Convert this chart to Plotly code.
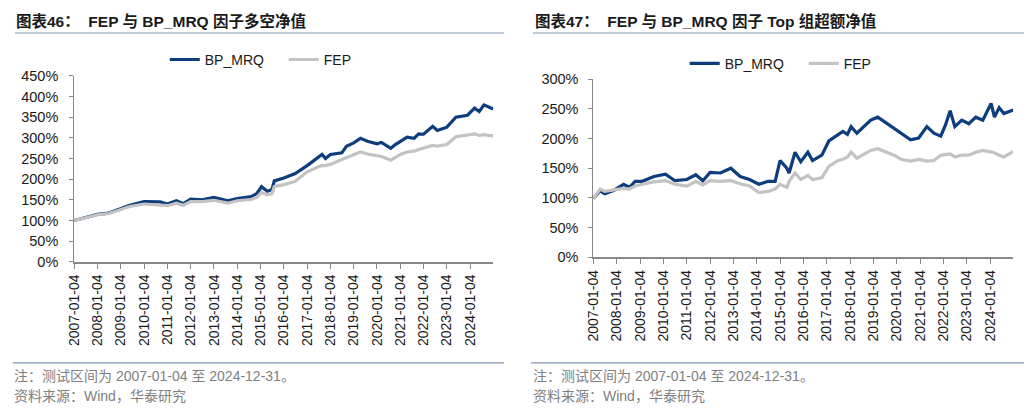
import plotly.graph_objects as go

# ---------------- data ----------------
left_dates = ["2007-01-04", "2007-07-02", "2008-01-04", "2008-07-02", "2009-01-04", "2009-05-26",
              "2010-01-04", "2010-09-13", "2011-01-04", "2011-05-26", "2011-09-13", "2012-01-04",
              "2012-07-02", "2013-01-04", "2013-08-08", "2014-01-04", "2014-08-08", "2014-11-06",
              "2015-01-20", "2015-04-20", "2015-07-02", "2015-08-08", "2016-01-04", "2016-07-02",
              "2017-01-04", "2017-07-02", "2017-08-26", "2017-10-19", "2018-01-04", "2018-07-02",
              "2018-09-13", "2019-01-04", "2019-04-20", "2019-08-08", "2020-01-04", "2020-03-14",
              "2020-08-08", "2020-10-19", "2021-01-04", "2021-04-20", "2021-08-08", "2021-10-19",
              "2022-01-04", "2022-05-26", "2022-08-08", "2023-01-04", "2023-05-26", "2023-11-24",
              "2024-03-14", "2024-05-26", "2024-08-08", "2024-10-19", "2024-12-31"]
left_bp = [100, 108, 115, 118, 128, 137, 146, 145, 140, 148, 141, 152, 150, 156, 148, 153, 158, 165,
           182, 171, 175, 196, 203, 214, 233, 252, 260, 250, 260, 264, 280, 288, 299, 292, 286, 289,
           275, 284, 291, 302, 299, 310, 309, 328, 318, 326, 350, 355, 372, 364, 380, 375, 370]
left_fep = [100, 107, 114, 117, 127, 134, 140, 138, 136, 142, 137, 146, 146, 149, 142, 148, 151, 156,
            168, 162, 165, 182, 187, 195, 218, 230, 233, 233, 236, 248, 252, 260, 266, 261, 257, 255,
            246, 252, 260, 266, 268, 272, 276, 282, 280, 284, 303, 307, 310, 306, 308, 306, 305]

right_dates = ["2007-01-04", "2007-04-20", "2007-07-02", "2007-11-24", "2008-04-20", "2008-07-20",
               "2008-10-19", "2009-02-06", "2009-08-08", "2010-02-06", "2010-07-02", "2011-01-04",
               "2011-05-26", "2011-09-13", "2012-01-04", "2012-06-14", "2012-11-24", "2013-04-20",
               "2013-09-13", "2014-02-06", "2014-07-02", "2014-10-19", "2015-01-04", "2015-04-20",
               "2015-05-26", "2015-08-26", "2015-11-24", "2016-03-14", "2016-05-26", "2016-10-19",
               "2017-02-06", "2017-07-02", "2017-09-13", "2017-11-24", "2018-01-20", "2018-04-20",
               "2018-08-08", "2018-11-24", "2019-03-14", "2019-08-08", "2019-11-24", "2020-03-14",
               "2020-08-08", "2020-12-13", "2021-04-20", "2021-08-08", "2021-11-24", "2022-02-06",
               "2022-04-20", "2022-07-02", "2022-10-19", "2023-02-06", "2023-05-26", "2023-09-13",
               "2024-01-20", "2024-03-14", "2024-05-26", "2024-08-08", "2024-12-31"]
right_bp = [99, 112, 107, 113, 123, 118, 128, 128, 136, 140, 129, 131, 139, 129, 143, 142, 150, 136,
            131, 123, 128, 128, 163, 150, 142, 177, 161, 177, 163, 172, 196, 207, 212, 207, 220, 209,
            220, 231, 236, 225, 217, 209, 198, 201, 220, 209, 204, 223, 247, 220, 231, 225, 236, 231,
            259, 236, 252, 242, 248]
right_fep = [99, 115, 111, 113, 116, 115, 120, 123, 127, 129, 123, 120, 128, 122, 129, 128, 129, 124,
             120, 109, 111, 115, 123, 118, 128, 142, 131, 138, 131, 134, 153, 163, 165, 169, 177, 167,
             174, 180, 183, 177, 172, 165, 162, 165, 162, 163, 172, 173, 174, 169, 172, 172, 177, 180,
             178, 176, 172, 169, 178]

tick_dates = ["%d-01-04" % y for y in range(2007, 2025)]
tick_labels = tick_dates
series_names = ["BP_MRQ", "FEP"]
colors = ["#0d3d7c", "#c3c3c3"]
titles = ["图表46：  FEP 与 BP_MRQ 因子多空净值", "图表47：  FEP 与 BP_MRQ 因子 Top 组超额净值"]
note = "注：测试区间为 2007-01-04 至 2024-12-31。"
source = "资料来源：Wind，华泰研究"

W, H = 1032, 416
FONT = "Liberation Sans, Arial, Noto Sans CJK SC, sans-serif"

fig = go.Figure()
for name, col, ys in zip(series_names, colors, [left_bp, left_fep]):
    fig.add_trace(go.Scatter(x=left_dates, y=ys, name=name, mode="lines",
                             line=dict(color=col, width=3.2), xaxis="x", yaxis="y", legend="legend"))
for name, col, ys in zip(series_names, colors, [right_bp, right_fep]):
    fig.add_trace(go.Scatter(x=right_dates, y=ys, name=name, mode="lines",
                             line=dict(color=col, width=3.2), xaxis="x2", yaxis="y2", legend="legend2"))

axis_common = dict(showline=True, linecolor="#888888", linewidth=1, ticks="outside", ticklen=4,
                   tickcolor="#888888", showgrid=False, zeroline=False,
                   tickfont=dict(family=FONT, size=14, color="#1a1a1a"))
yfont = dict(family=FONT, size=14.5, color="#1a1a1a")
xcommon = dict(axis_common, type="date", tickvals=tick_dates, ticktext=tick_labels, tickangle=-90,
               range=["2007-01-04", "2024-12-31"], linewidth=2, ticklen=5)
legend_common = dict(orientation="h", xanchor="left", yanchor="middle", entrywidth=74,
                     font=dict(family=FONT, size=14, color="#1a1a1a"), bgcolor="rgba(0,0,0,0)")

fig.update_layout(
    width=W, height=H, autosize=False, margin=dict(l=0, r=0, t=0, b=0),
    paper_bgcolor="white", plot_bgcolor="white",
    xaxis=dict(xcommon, domain=[66.7 / W, 489 / W], anchor="y"),
    yaxis=dict(axis_common, domain=[1 - 264 / H, 1 - 70.7 / H], range=[0, 450], dtick=50,
               ticksuffix="%", anchor="x", ticklabelstandoff=8, tickfont=yfont),
    xaxis2=dict(xcommon, domain=[590 / W, 1013 / W], anchor="y2"),
    yaxis2=dict(axis_common, domain=[1 - 259.3 / H, 1 - 74 / H], range=[0, 300], dtick=50,
                ticksuffix="%", anchor="x2", ticklabelstandoff=7, tickfont=yfont),
    legend=dict(legend_common, x=158 / W, y=1 - 54 / H),
    legend2=dict(legend_common, x=682 / W, y=1 - 58 / H),
)

shapes = []
annotations = []
for x0, x1 in [(7, 500), (529, 1024)]:
    shapes.append(dict(type="line", xref="paper", yref="paper", x0=x0 / W, x1=x1 / W,
                       y0=1 - 26 / H, y1=1 - 26 / H, line=dict(color="#8496b0", width=1.2)))
    shapes.append(dict(type="line", xref="paper", yref="paper", x0=(x0 - 2) / W, x1=x1 / W,
                       y0=1 - 369 / H, y1=1 - 369 / H, line=dict(color="#8496b0", width=1.2)))
for i, tx in enumerate([6, 529]):
    annotations.append(dict(text="<b>%s</b>" % titles[i], xref="paper", yref="paper", x=tx / W,
                            y=1 - 13 / H, xanchor="left", yanchor="middle", showarrow=False,
                            font=dict(family=FONT, size=15.5, color="#1a1a1a")))
    annotations.append(dict(text=note, xref="paper", yref="paper", x=(tx - 2) / W, y=1 - 383 / H,
                            xanchor="left", yanchor="middle", showarrow=False,
                            font=dict(family=FONT, size=14, color="#808080")))
    annotations.append(dict(text=source, xref="paper", yref="paper", x=(tx - 2) / W, y=1 - 403 / H,
                            xanchor="left", yanchor="middle", showarrow=False,
                            font=dict(family=FONT, size=14, color="#808080")))
fig.update_layout(shapes=shapes, annotations=annotations)

fig.write_html("out.html", config={"displayModeBar": False},
               post_script="document.body.style.margin='0';document.body.style.overflow='hidden';")
